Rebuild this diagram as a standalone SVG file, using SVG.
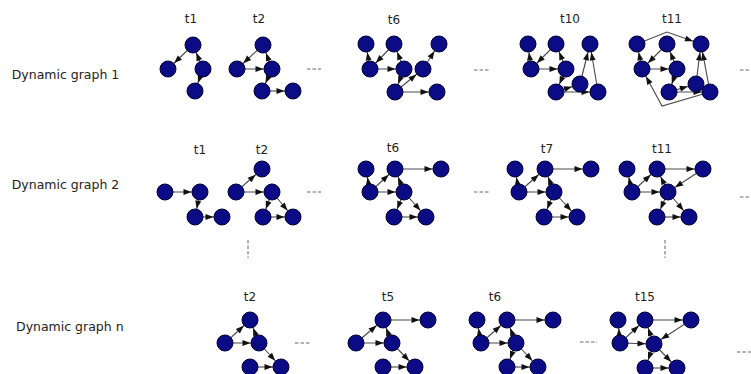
<svg xmlns="http://www.w3.org/2000/svg" width="751" height="374" viewBox="0 0 751 374">
<style>
.n{fill:#0b0b86;stroke:#000033;stroke-width:1}
.e{stroke:#4a4a4a;stroke-width:1.1;fill:none;marker-end:url(#ah)}
.d{stroke:#666;stroke-width:1;stroke-dasharray:3.5,2;fill:none}
.t{font-family:"DejaVu Sans",sans-serif;font-size:12px;fill:#222;text-anchor:middle}
.r{font-family:"DejaVu Sans",sans-serif;font-size:12.5px;fill:#222}
</style>
<defs>
<marker id="ah" viewBox="0 0 8 6" refX="16.5" refY="3" markerWidth="8" markerHeight="6" markerUnits="userSpaceOnUse" orient="auto" overflow="visible">
<path d="M0,0 L8,3 L0,6 z" fill="#111"/>
</marker>
</defs>
<rect width="751" height="374" fill="#fff"/>
<g id="row-labels">
<text class="r" x="11.7" y="79">Dynamic graph 1</text>
<text class="r" x="11.7" y="189">Dynamic graph 2</text>
<text class="r" x="16" y="331">Dynamic graph n</text>
</g>
<g id="time-labels">
<text class="t" x="191" y="23">t1</text>
<text class="t" x="259" y="23">t2</text>
<text class="t" x="394" y="24">t6</text>
<text class="t" x="570" y="23">t10</text>
<text class="t" x="672" y="23">t11</text>
<text class="t" x="200" y="154">t1</text>
<text class="t" x="262" y="154">t2</text>
<text class="t" x="393" y="152">t6</text>
<text class="t" x="547" y="153">t7</text>
<text class="t" x="662" y="153">t11</text>
<text class="t" x="250" y="301">t2</text>
<text class="t" x="388" y="301">t5</text>
<text class="t" x="495" y="301">t6</text>
<text class="t" x="645" y="301">t15</text>
</g>
<g id="ellipses">
<line class="d" x1="307" y1="69" x2="321" y2="69"/>
<line class="d" x1="474" y1="70" x2="489" y2="70"/>
<line class="d" x1="740" y1="70" x2="751" y2="70"/>
<line class="d" x1="307" y1="192" x2="321" y2="192"/>
<line class="d" x1="474" y1="192" x2="489" y2="192"/>
<line class="d" x1="740" y1="197" x2="751" y2="197"/>
<line class="d" x1="295" y1="343" x2="311" y2="343"/>
<line class="d" x1="580" y1="342" x2="597" y2="342"/>
<line class="d" x1="737" y1="352" x2="751" y2="352"/>
<line class="d" x1="248" y1="240" x2="248" y2="258"/>
<line class="d" x1="665" y1="240" x2="665" y2="258"/>
</g>
<g id="connectors">
<!-- row1 t1 -->
<line class="e" x1="193" y1="45" x2="168" y2="69"/>
<line class="e" x1="203" y1="69" x2="193" y2="45"/>
<line class="e" x1="203" y1="69" x2="195" y2="91"/>
<!-- row1 t2 -->
<line class="e" x1="263" y1="45" x2="237" y2="69"/>
<line class="e" x1="237" y1="69" x2="272" y2="69"/>
<line class="e" x1="272" y1="69" x2="263" y2="45"/>
<line class="e" x1="272" y1="69" x2="262" y2="91"/>
<line class="e" x1="262" y1="91" x2="293" y2="91"/>
<!-- row1 t6 -->
<line class="e" x1="370" y1="69" x2="366" y2="44"/>
<line class="e" x1="394" y1="44" x2="370" y2="69"/>
<line class="e" x1="370" y1="69" x2="404" y2="69"/>
<line class="e" x1="404" y1="69" x2="394" y2="44"/>
<line class="e" x1="404" y1="69" x2="395" y2="92"/>
<line class="e" x1="395" y1="92" x2="423" y2="69"/>
<line class="e" x1="423" y1="69" x2="439" y2="44"/>
<line class="e" x1="395" y1="92" x2="437" y2="92"/>
<!-- row1 t10 -->
<line class="e" x1="531" y1="69" x2="528" y2="44"/>
<line class="e" x1="556" y1="44" x2="531" y2="69"/>
<line class="e" x1="531" y1="69" x2="566" y2="69"/>
<line class="e" x1="566" y1="69" x2="556" y2="44"/>
<line class="e" x1="566" y1="69" x2="556" y2="92"/>
<line class="e" x1="556" y1="92" x2="580" y2="84"/>
<line class="e" x1="580" y1="84" x2="590" y2="44"/>
<line class="e" x1="556" y1="92" x2="598" y2="92"/>
<line class="e" x1="598" y1="92" x2="590" y2="44"/>
<!-- row1 t11 -->
<line class="e" x1="642" y1="69" x2="637" y2="44"/>
<line class="e" x1="667" y1="44" x2="642" y2="69"/>
<line class="e" x1="642" y1="69" x2="677" y2="69"/>
<line class="e" x1="677" y1="69" x2="667" y2="44"/>
<line class="e" x1="677" y1="69" x2="669" y2="92"/>
<line class="e" x1="669" y1="92" x2="696" y2="84"/>
<line class="e" x1="696" y1="84" x2="701" y2="44"/>
<line class="e" x1="669" y1="92" x2="710" y2="92"/>
<line class="e" x1="710" y1="92" x2="701" y2="44"/>
<path class="e" d="M637,44 L667,32 L701,44"/>
<path class="e" d="M710,92 L662,106 L642,69"/>
<!-- row2 t1 -->
<line class="e" x1="165" y1="192" x2="200" y2="192"/>
<line class="e" x1="200" y1="192" x2="195" y2="217"/>
<line class="e" x1="195" y1="217" x2="222" y2="217"/>
<!-- row2 t2 -->
<line class="e" x1="236" y1="192" x2="262" y2="169"/>
<line class="e" x1="236" y1="192" x2="272" y2="192"/>
<line class="e" x1="272" y1="192" x2="263" y2="217"/>
<line class="e" x1="272" y1="192" x2="293" y2="217"/>
<line class="e" x1="263" y1="217" x2="293" y2="217"/>
<!-- row2 t6 -->
<line class="e" x1="370" y1="192" x2="366" y2="169"/>
<line class="e" x1="370" y1="192" x2="395" y2="169"/>
<line class="e" x1="370" y1="192" x2="404" y2="192"/>
<line class="e" x1="404" y1="192" x2="395" y2="169"/>
<line class="e" x1="395" y1="169" x2="441" y2="169"/>
<line class="e" x1="404" y1="192" x2="394" y2="217"/>
<line class="e" x1="394" y1="217" x2="426" y2="217"/>
<line class="e" x1="404" y1="192" x2="426" y2="217"/>
<!-- row2 t7 -->
<line class="e" x1="519" y1="192" x2="515" y2="169"/>
<line class="e" x1="519" y1="192" x2="545" y2="169"/>
<line class="e" x1="519" y1="192" x2="554" y2="192"/>
<line class="e" x1="554" y1="192" x2="545" y2="169"/>
<line class="e" x1="545" y1="169" x2="591" y2="169"/>
<line class="e" x1="554" y1="192" x2="544" y2="217"/>
<line class="e" x1="544" y1="217" x2="577" y2="217"/>
<line class="e" x1="554" y1="192" x2="577" y2="217"/>
<!-- row2 t11 -->
<line class="e" x1="632" y1="192" x2="627" y2="169"/>
<line class="e" x1="632" y1="192" x2="657" y2="169"/>
<line class="e" x1="632" y1="192" x2="668" y2="192"/>
<line class="e" x1="668" y1="192" x2="657" y2="169"/>
<line class="e" x1="657" y1="169" x2="703" y2="169"/>
<line class="e" x1="703" y1="169" x2="668" y2="192"/>
<line class="e" x1="668" y1="192" x2="657" y2="217"/>
<line class="e" x1="657" y1="217" x2="689" y2="217"/>
<line class="e" x1="668" y1="192" x2="689" y2="217"/>
<!-- row3 t2 -->
<line class="e" x1="225" y1="343" x2="250" y2="320"/>
<line class="e" x1="225" y1="343" x2="259" y2="343"/>
<line class="e" x1="259" y1="343" x2="250" y2="320"/>
<line class="e" x1="259" y1="343" x2="281" y2="367"/>
<line class="e" x1="250" y1="367" x2="281" y2="367"/>
<!-- row3 t5 -->
<line class="e" x1="356" y1="343" x2="383" y2="320"/>
<line class="e" x1="356" y1="343" x2="392" y2="343"/>
<line class="e" x1="392" y1="343" x2="383" y2="320"/>
<line class="e" x1="383" y1="320" x2="428" y2="320"/>
<line class="e" x1="392" y1="343" x2="415" y2="367"/>
<line class="e" x1="383" y1="367" x2="415" y2="367"/>
<!-- row3 t6 -->
<line class="e" x1="481" y1="343" x2="477" y2="320"/>
<line class="e" x1="481" y1="343" x2="507" y2="320"/>
<line class="e" x1="481" y1="343" x2="516" y2="343"/>
<line class="e" x1="516" y1="343" x2="507" y2="320"/>
<line class="e" x1="507" y1="320" x2="553" y2="320"/>
<line class="e" x1="516" y1="343" x2="507" y2="367"/>
<line class="e" x1="507" y1="367" x2="538" y2="367"/>
<line class="e" x1="516" y1="343" x2="538" y2="367"/>
<!-- row3 t15 -->
<line class="e" x1="620" y1="343" x2="618" y2="320"/>
<line class="e" x1="620" y1="343" x2="645" y2="320"/>
<line class="e" x1="620" y1="343" x2="654" y2="344"/>
<line class="e" x1="654" y1="344" x2="645" y2="320"/>
<line class="e" x1="645" y1="320" x2="691" y2="320"/>
<line class="e" x1="691" y1="320" x2="654" y2="344"/>
<line class="e" x1="654" y1="344" x2="645" y2="368"/>
<line class="e" x1="645" y1="368" x2="677" y2="368"/>
<line class="e" x1="654" y1="344" x2="677" y2="368"/>
</g>
<g id="nodes">
<g id="g1-t1-a"><circle class="n" cx="193" cy="45" r="8"/></g>
<g id="g1-t1-b"><circle class="n" cx="168" cy="69" r="8"/></g>
<g id="g1-t1-c"><circle class="n" cx="203" cy="69" r="8"/></g>
<g id="g1-t1-d"><circle class="n" cx="195" cy="91" r="8"/></g>
<g id="g1-t2-a"><circle class="n" cx="263" cy="45" r="8"/></g>
<g id="g1-t2-b"><circle class="n" cx="237" cy="69" r="8"/></g>
<g id="g1-t2-c"><circle class="n" cx="272" cy="69" r="8"/></g>
<g id="g1-t2-d"><circle class="n" cx="262" cy="91" r="8"/></g>
<g id="g1-t2-e"><circle class="n" cx="293" cy="91" r="8"/></g>
<g id="g1-t6-a"><circle class="n" cx="366" cy="44" r="8"/></g>
<g id="g1-t6-b"><circle class="n" cx="394" cy="44" r="8"/></g>
<g id="g1-t6-c"><circle class="n" cx="439" cy="44" r="8"/></g>
<g id="g1-t6-d"><circle class="n" cx="370" cy="69" r="8"/></g>
<g id="g1-t6-e"><circle class="n" cx="404" cy="69" r="8"/></g>
<g id="g1-t6-f"><circle class="n" cx="423" cy="69" r="8"/></g>
<g id="g1-t6-g"><circle class="n" cx="395" cy="92" r="8"/></g>
<g id="g1-t6-h"><circle class="n" cx="437" cy="92" r="8"/></g>
<g id="g1-t10-a"><circle class="n" cx="528" cy="44" r="8"/></g>
<g id="g1-t10-b"><circle class="n" cx="556" cy="44" r="8"/></g>
<g id="g1-t10-c"><circle class="n" cx="590" cy="44" r="8"/></g>
<g id="g1-t10-d"><circle class="n" cx="531" cy="69" r="8"/></g>
<g id="g1-t10-e"><circle class="n" cx="566" cy="69" r="8"/></g>
<g id="g1-t10-f"><circle class="n" cx="580" cy="84" r="8"/></g>
<g id="g1-t10-g"><circle class="n" cx="556" cy="92" r="8"/></g>
<g id="g1-t10-h"><circle class="n" cx="598" cy="92" r="8"/></g>
<g id="g1-t11-a"><circle class="n" cx="637" cy="44" r="8"/></g>
<g id="g1-t11-b"><circle class="n" cx="667" cy="44" r="8"/></g>
<g id="g1-t11-c"><circle class="n" cx="701" cy="44" r="8"/></g>
<g id="g1-t11-d"><circle class="n" cx="642" cy="69" r="8"/></g>
<g id="g1-t11-e"><circle class="n" cx="677" cy="69" r="8"/></g>
<g id="g1-t11-f"><circle class="n" cx="696" cy="84" r="8"/></g>
<g id="g1-t11-g"><circle class="n" cx="669" cy="92" r="8"/></g>
<g id="g1-t11-h"><circle class="n" cx="710" cy="92" r="8"/></g>
<g id="g2-t1-a"><circle class="n" cx="165" cy="192" r="8"/></g>
<g id="g2-t1-b"><circle class="n" cx="200" cy="192" r="8"/></g>
<g id="g2-t1-c"><circle class="n" cx="195" cy="217" r="8"/></g>
<g id="g2-t1-d"><circle class="n" cx="222" cy="217" r="8"/></g>
<g id="g2-t2-a"><circle class="n" cx="262" cy="169" r="8"/></g>
<g id="g2-t2-b"><circle class="n" cx="236" cy="192" r="8"/></g>
<g id="g2-t2-c"><circle class="n" cx="272" cy="192" r="8"/></g>
<g id="g2-t2-d"><circle class="n" cx="263" cy="217" r="8"/></g>
<g id="g2-t2-e"><circle class="n" cx="293" cy="217" r="8"/></g>
<g id="g2-t6-a"><circle class="n" cx="366" cy="169" r="8"/></g>
<g id="g2-t6-b"><circle class="n" cx="395" cy="169" r="8"/></g>
<g id="g2-t6-c"><circle class="n" cx="441" cy="169" r="8"/></g>
<g id="g2-t6-d"><circle class="n" cx="370" cy="192" r="8"/></g>
<g id="g2-t6-e"><circle class="n" cx="404" cy="192" r="8"/></g>
<g id="g2-t6-f"><circle class="n" cx="394" cy="217" r="8"/></g>
<g id="g2-t6-g"><circle class="n" cx="426" cy="217" r="8"/></g>
<g id="g2-t7-a"><circle class="n" cx="515" cy="169" r="8"/></g>
<g id="g2-t7-b"><circle class="n" cx="545" cy="169" r="8"/></g>
<g id="g2-t7-c"><circle class="n" cx="591" cy="169" r="8"/></g>
<g id="g2-t7-d"><circle class="n" cx="519" cy="192" r="8"/></g>
<g id="g2-t7-e"><circle class="n" cx="554" cy="192" r="8"/></g>
<g id="g2-t7-f"><circle class="n" cx="544" cy="217" r="8"/></g>
<g id="g2-t7-g"><circle class="n" cx="577" cy="217" r="8"/></g>
<g id="g2-t11-a"><circle class="n" cx="627" cy="169" r="8"/></g>
<g id="g2-t11-b"><circle class="n" cx="657" cy="169" r="8"/></g>
<g id="g2-t11-c"><circle class="n" cx="703" cy="169" r="8"/></g>
<g id="g2-t11-d"><circle class="n" cx="632" cy="192" r="8"/></g>
<g id="g2-t11-e"><circle class="n" cx="668" cy="192" r="8"/></g>
<g id="g2-t11-f"><circle class="n" cx="657" cy="217" r="8"/></g>
<g id="g2-t11-g"><circle class="n" cx="689" cy="217" r="8"/></g>
<g id="gn-t2-a"><circle class="n" cx="250" cy="320" r="8"/></g>
<g id="gn-t2-b"><circle class="n" cx="225" cy="343" r="8"/></g>
<g id="gn-t2-c"><circle class="n" cx="259" cy="343" r="8"/></g>
<g id="gn-t2-d"><circle class="n" cx="250" cy="367" r="8"/></g>
<g id="gn-t2-e"><circle class="n" cx="281" cy="367" r="8"/></g>
<g id="gn-t5-a"><circle class="n" cx="383" cy="320" r="8"/></g>
<g id="gn-t5-b"><circle class="n" cx="428" cy="320" r="8"/></g>
<g id="gn-t5-c"><circle class="n" cx="356" cy="343" r="8"/></g>
<g id="gn-t5-d"><circle class="n" cx="392" cy="343" r="8"/></g>
<g id="gn-t5-e"><circle class="n" cx="383" cy="367" r="8"/></g>
<g id="gn-t5-f"><circle class="n" cx="415" cy="367" r="8"/></g>
<g id="gn-t6-a"><circle class="n" cx="477" cy="320" r="8"/></g>
<g id="gn-t6-b"><circle class="n" cx="507" cy="320" r="8"/></g>
<g id="gn-t6-c"><circle class="n" cx="553" cy="320" r="8"/></g>
<g id="gn-t6-d"><circle class="n" cx="481" cy="343" r="8"/></g>
<g id="gn-t6-e"><circle class="n" cx="516" cy="343" r="8"/></g>
<g id="gn-t6-f"><circle class="n" cx="507" cy="367" r="8"/></g>
<g id="gn-t6-g"><circle class="n" cx="538" cy="367" r="8"/></g>
<g id="gn-t15-a"><circle class="n" cx="618" cy="320" r="8"/></g>
<g id="gn-t15-b"><circle class="n" cx="645" cy="320" r="8"/></g>
<g id="gn-t15-c"><circle class="n" cx="691" cy="320" r="8"/></g>
<g id="gn-t15-d"><circle class="n" cx="620" cy="343" r="8"/></g>
<g id="gn-t15-e"><circle class="n" cx="654" cy="344" r="8"/></g>
<g id="gn-t15-f"><circle class="n" cx="645" cy="368" r="8"/></g>
<g id="gn-t15-g"><circle class="n" cx="677" cy="368" r="8"/></g>
</g>
</svg>
